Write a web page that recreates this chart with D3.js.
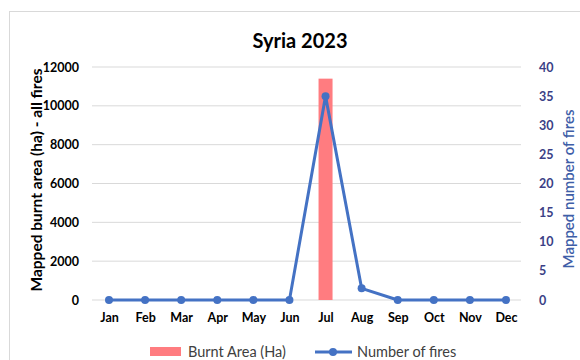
<!DOCTYPE html>
<html><head><meta charset="utf-8">
<script src="https://cdn.jsdelivr.net/npm/d3@7"></script>
<style>body{margin:0;background:#fff}svg{display:block}</style>
</head><body>
<script>
const months = ["Jan","Feb","Mar","Apr","May","Jun","Jul","Aug","Sep","Oct","Nov","Dec"];
const burntArea = [0,0,0,0,0,0,11400,0,0,0,0,0];
const numFires = [0,0,0,0,0,0,35,2,0,0,0,0];
const leftTicks = [0,2000,4000,6000,8000,10000,12000];
const rightTicks = [0,5,10,15,20,25,30,35,40];

const W=580,H=360;
const svg=d3.select("body").append("svg").attr("width",W).attr("height",H);
const font="Lato, 'Open Sans', sans-serif";
svg.append("rect").attr("x",9.5).attr("y",11.5).attr("width",W).attr("height",H).attr("fill","#fff").attr("stroke","#d9d9d9");

const x=d3.scalePoint().domain(months).range([109,506]);
const yL=d3.scaleLinear().domain([0,12000]).range([300,67]);
const yR=d3.scaleLinear().domain([0,40]).range([300,67]);

// gridlines
svg.append("g").selectAll("line").data(leftTicks).join("line")
 .attr("x1",92).attr("x2",521).attr("y1",d=>yL(d)).attr("y2",d=>yL(d))
 .attr("stroke","#d9d9d9").attr("stroke-width",1);

// left axis
const gL=svg.append("g").attr("transform","translate(79,0)")
 .call(d3.axisLeft(yL).tickValues(leftTicks).tickSize(0).tickPadding(0).tickFormat(d3.format("d")));
gL.select(".domain").remove();
gL.selectAll("text").attr("font-family",font).attr("font-weight","bold").attr("font-size",12.5).attr("fill","#000");

// right axis
const gR=svg.append("g").attr("transform","translate(539,0)")
 .call(d3.axisRight(yR).tickValues(rightTicks).tickSize(0).tickPadding(0));
gR.select(".domain").remove();
gR.selectAll("text").attr("font-family",font).attr("font-weight","bold").attr("font-size",12.5).attr("fill","#3b3f86");

// x axis labels
const gX=svg.append("g").attr("transform","translate(0,313)")
 .call(d3.axisBottom(x).tickSize(0).tickPadding(0));
gX.select(".domain").remove();
gX.selectAll("text").attr("font-family",font).attr("font-weight","bold").attr("font-size",12.5).attr("fill","#000").attr("dy","0.71em");

// bars
const bw=14;
svg.append("g").selectAll("rect").data(months.map((m,i)=>({m,v:burntArea[i]})).filter(d=>d.v>0)).join("rect")
 .attr("x",d=>x(d.m)-bw/2).attr("width",bw).attr("y",d=>yL(d.v)).attr("height",d=>yL(0)-yL(d.v))
 .attr("fill","#ff7c80");

// line
const pts=months.map((m,i)=>({m,v:numFires[i]}));
svg.append("path").datum(pts).attr("fill","none").attr("stroke","#4472c4").attr("stroke-width",3)
 .attr("stroke-linejoin","round")
 .attr("d",d3.line().x(d=>x(d.m)).y(d=>yR(d.v)));
svg.append("g").selectAll("circle").data(pts).join("circle")
 .attr("cx",d=>x(d.m)).attr("cy",d=>yR(d.v)).attr("r",4).attr("fill","#4472c4");

// title
svg.append("text").attr("x",300).attr("y",48).attr("text-anchor","middle")
 .attr("font-family",font).attr("font-weight","bold").attr("font-size",20).attr("fill","#000").text("Syria 2023");

// axis titles
svg.append("text").attr("transform","translate(42,180) rotate(-90)").attr("text-anchor","middle")
 .attr("font-family",font).attr("font-weight","bold").attr("font-size",15.5).attr("fill","#000")
 .text("Mapped burnt area (ha) - all fires");
svg.append("text").attr("transform","translate(574,189) rotate(-90)").attr("text-anchor","middle")
 .attr("font-family",font).attr("font-size",15).attr("font-weight",600).attr("fill","#3e5ea8")
 .text("Mapped number of fires");

// legend
const lg=svg.append("g");
lg.append("rect").attr("x",150).attr("y",347).attr("width",31).attr("height",9).attr("fill","#ff7c80");
lg.append("text").attr("x",188).attr("y",357).attr("font-family",font).attr("font-size",14.5).attr("fill","#404040").text("Burnt Area (Ha)");
lg.append("line").attr("x1",315).attr("x2",352).attr("y1",352).attr("y2",352).attr("stroke","#4472c4").attr("stroke-width",3);
lg.append("circle").attr("cx",333).attr("cy",352).attr("r",4).attr("fill","#4472c4");
lg.append("text").attr("x",357).attr("y",357).attr("font-family",font).attr("font-size",14.5).attr("fill","#404040").text("Number of fires");
</script>
</body></html>
